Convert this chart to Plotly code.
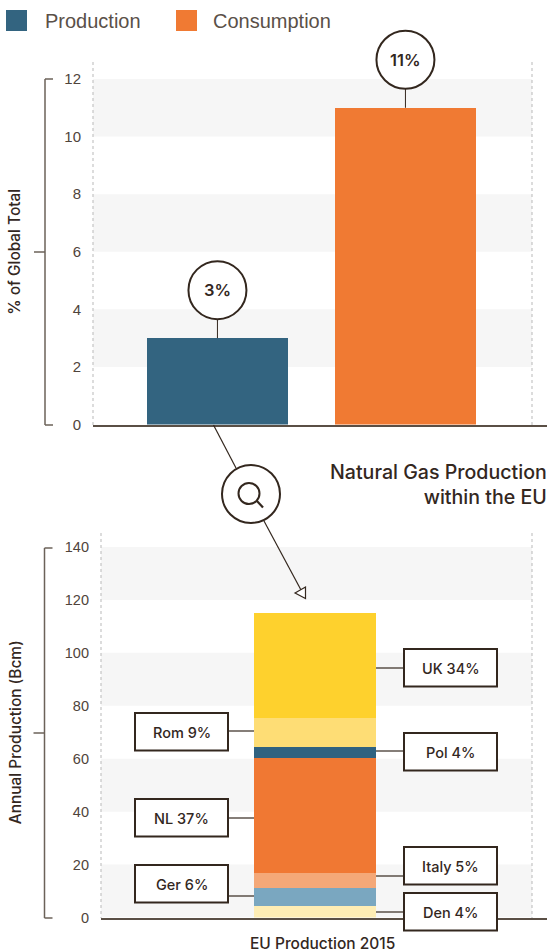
import plotly.graph_objects as go

# Share of the global natural gas total
share_categories = ["Production", "Consumption"]
share_values = [3, 11]
share_colors = ["#336480", "#f07a33"]

# EU production by country, stacked from the bottom up (Bcm)
eu_category = "EU Production 2015"
countries = ["Den", "Ger", "Italy", "NL", "Pol", "Rom", "UK"]
country_values = [4.5, 6.8, 5.6, 43.3, 4.1, 10.9, 39.9]
country_shares = [4, 6, 5, 37, 4, 9, 34]
country_colors = ["#feedb4", "#7aa7c0", "#f4a878", "#f07833", "#306280", "#fedd75", "#fed12d"]

share_ticks = [0, 2, 4, 6, 8, 10, 12]
eu_ticks = [0, 20, 40, 60, 80, 100, 120, 140]
share_bands = [(2, 4), (6, 8), (10, 12)]
eu_bands = [(0, 20), (40, 60), (80, 100), (120, 140)]

W, H = 547, 952
FONT = "Liberation Sans"
STRONG = "Inter"
DARK = "#33271e"
TEXT = "#4f443b"
RULE = "#6b6259"


def px(x):
    return x / W


def py(y):
    return 1 - y / H


SHARE_DOMAIN = [py(424.5), py(79)]
SHARE_RANGE = [0, 12]


def share_paper_y(value):
    # Paper position of a value on the share axis, so bubbles can sit above the plot area
    lo, hi = SHARE_DOMAIN
    return lo + (value - SHARE_RANGE[0]) / (SHARE_RANGE[1] - SHARE_RANGE[0]) * (hi - lo)


def line(x0, y0, x1, y1, color=RULE, width=1.5, dash=None):
    return dict(type="line", xref="paper", yref="paper", x0=px(x0), y0=py(y0), x1=px(x1), y1=py(y1),
                line=dict(color=color, width=width, dash=dash), layer="above")


fig = go.Figure()

fig.add_trace(go.Bar(x=share_categories, y=share_values, width=0.75, marker=dict(color=share_colors, line_width=0),
                     xaxis="x", yaxis="y", showlegend=False))

for name, value, color in zip(countries, country_values, country_colors):
    fig.add_trace(go.Bar(x=[eu_category], y=[value], name=name, width=1, marker=dict(color=color, line_width=0),
                         xaxis="x2", yaxis="y2", showlegend=False))

shapes = []
annotations = []


def note(text, x, y, size, color=TEXT, xanchor="left", family=FONT, weight=None, **kw):
    annotations.append(dict(text=text, xref="paper", yref="paper", x=px(x), y=py(y), xanchor=xanchor,
                            yanchor="middle", showarrow=False,
                            font=dict(family=family, size=size, color=color, weight=weight), **kw))


# Alternating grey bands behind the bars
for lo, hi in share_bands:
    shapes.append(dict(type="rect", xref="paper", yref="y", x0=px(93), x1=px(532), y0=lo, y1=hi,
                       fillcolor="#f6f6f6", line_width=0, layer="below"))
for lo, hi in eu_bands:
    shapes.append(dict(type="rect", xref="paper", yref="y2", x0=px(101), x1=px(532), y0=lo, y1=hi,
                       fillcolor="#f6f6f6", line_width=0, layer="below"))

# Dotted frame lines at both plot edges
for x, top, bottom in [(93, 62, 425), (532, 62, 425), (101, 533, 918), (532, 533, 918)]:
    s = line(x, top, x, bottom, color="#b9b9b9", width=1, dash="dot")
    s["layer"] = "below"
    shapes.append(s)

# Bracket beside each value axis
for x, top, bottom, mid in [(45, 79, 425, 252), (44.5, 548, 918, 733)]:
    shapes += [line(x, top, x, bottom), line(x, top, x + 8, top), line(x, bottom, x + 8, bottom),
               line(x - 11, mid, x, mid)]

# Stem and round value bubble a fixed distance above each share bar
BUBBLE_RISE = 48 / H
BUBBLE_HALF = 29
for cat, v in zip(share_categories, share_values):
    bar_top = share_paper_y(v)
    shapes.append(dict(type="line", xref="x", yref="paper", x0=cat, x1=cat, y0=bar_top, y1=bar_top + BUBBLE_RISE,
                       line=dict(color=DARK, width=1)))
    shapes.append(dict(type="circle", xref="x", yref="paper", xsizemode="pixel", ysizemode="pixel",
                       xanchor=cat, yanchor=bar_top + BUBBLE_RISE,
                       x0=-BUBBLE_HALF, x1=BUBBLE_HALF, y0=-BUBBLE_HALF, y1=BUBBLE_HALF,
                       fillcolor="white", line=dict(color=DARK, width=2)))
    annotations.append(dict(text=f"{v}%", xref="x", yref="paper", x=cat, y=bar_top + BUBBLE_RISE,
                            yanchor="middle", showarrow=False,
                            font=dict(family=STRONG, size=16.5, color=DARK, weight=600)))

# Magnifier link between the two charts
shapes += [
    line(213.5, 425, 236, 468, color=DARK, width=1.2),
    line(264, 521, 301, 590, color=DARK, width=1.2),
    dict(type="path", xref="paper", yref="paper",
         path=f"M {px(295)} {py(593)} L {px(305.5)} {py(587)} L {px(305.5)} {py(598.5)} Z",
         fillcolor="white", line=dict(color=DARK, width=1.2)),
    dict(type="circle", xref="paper", yref="paper", x0=px(222), x1=px(280), y0=py(523), y1=py(465),
         fillcolor="white", line=dict(color=DARK, width=2)),
    dict(type="circle", xref="paper", yref="paper", x0=px(238.5), x1=px(259.5), y0=py(504), y1=py(483),
         fillcolor="white", line=dict(color=DARK, width=2)),
    line(256.5, 500.5, 263, 507.5, color=DARK, width=2.2),
]

# Legend swatches and labels
for x, color in zip((6, 176), share_colors):
    shapes.append(dict(type="rect", xref="paper", yref="paper", x0=px(x), x1=px(x + 21), y0=py(31), y1=py(10),
                       fillcolor=color, line_width=0))
for x, label in zip((43, 211), share_categories):
    note(label, x, 21, 20, color="#5a5048")

note("Natural Gas Production<br>within the EU", 549, 485, 19.6, color=DARK, xanchor="right", align="right",
     family=STRONG, weight=500)
note(eu_category, 322, 943, 15.5, color=DARK, xanchor="center", family=STRONG, weight=500)

# Country callout boxes: left-side and right-side columns with a leader to the bar
BOX_LEFT = (135, 228, 254)
BOX_RIGHT = (404, 497, 376)
callouts = {
    "UK": (BOX_RIGHT, 649, 668),
    "Rom": (BOX_LEFT, 713, 731),
    "Pol": (BOX_RIGHT, 733, 751),
    "NL": (BOX_LEFT, 799, 818),
    "Ger": (BOX_LEFT, 865, 896),
    "Italy": (BOX_RIGHT, 847, 876),
    "Den": (BOX_RIGHT, 893, 912),
}
for name, share in zip(countries, country_shares):
    (x0, x1, bar_edge), top, leader_y = callouts[name]
    near = x1 if x0 < bar_edge else x0
    shapes.append(line(near, leader_y, bar_edge, leader_y, color=DARK, width=1.2))
    shapes.append(dict(type="rect", xref="paper", yref="paper", x0=px(x0), x1=px(x1), y0=py(top + 37.5), y1=py(top),
                       fillcolor="white", line=dict(color=DARK, width=2)))
    note(f"{name} {share}%", (x0 + x1) / 2, top + 19, 14.5, color=DARK, xanchor="center", family=STRONG, weight=500)

axis_title_font = dict(family=STRONG, size=15.4, color=DARK, weight=500)

fig.update_layout(
    width=W, height=H, margin=dict(l=0, r=0, t=0, b=0, autoexpand=False), autosize=False,
    paper_bgcolor="white", plot_bgcolor="rgba(0,0,0,0)", barmode="stack",
    shapes=shapes, annotations=annotations,
    xaxis=dict(domain=[px(93), 1], anchor="y", range=[-0.662, 1.753], showticklabels=False, ticks="",
               showgrid=False, zeroline=False, showline=True, linecolor="#5a4f45", linewidth=1.5),
    yaxis=dict(domain=SHARE_DOMAIN, anchor="x", range=SHARE_RANGE, tickvals=share_ticks,
               tickfont=dict(family=FONT, size=15, color=TEXT),
               ticks="", ticklabelstandoff=11, showgrid=False, zeroline=False, showline=False,
               title=dict(text="% of Global Total", font=axis_title_font, standoff=39)),
    xaxis2=dict(domain=[px(101), 1], anchor="y2", range=[-1.754, 1.902], showticklabels=False, ticks="",
                showgrid=False, zeroline=False, showline=True, linecolor="#5a4f45", linewidth=1.5),
    yaxis2=dict(domain=[py(917.5), py(547)], anchor="x2", range=[0, 140], tickvals=eu_ticks,
                tickfont=dict(family=FONT, size=14.5, color=TEXT),
                ticks="", ticklabelstandoff=11, showgrid=False, zeroline=False, showline=False,
                title=dict(text="Annual Production (Bcm)", font=axis_title_font, standoff=39)),
)

fig.write_html("out.html", config=dict(displayModeBar=False))
